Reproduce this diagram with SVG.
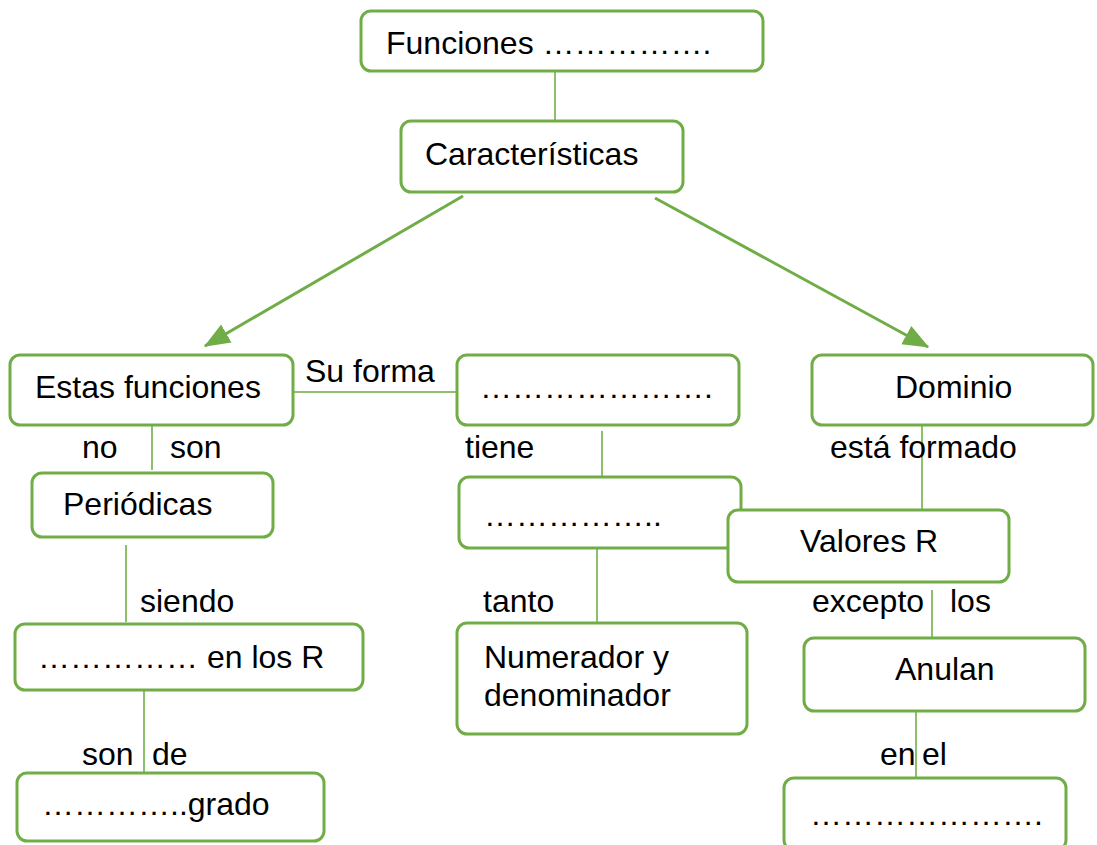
<svg xmlns="http://www.w3.org/2000/svg" width="1097" height="845" viewBox="0 0 1097 845">
<style>
.box{fill:#fff;stroke:#70ad47;stroke-width:3}
.t{font-family:"Liberation Sans",Arial,sans-serif;font-size:32px;fill:#000}
.ln{stroke:#8cc06a;stroke-width:2;fill:none}
.ar{stroke:#70ad47;stroke-width:3;fill:none}
</style>
<defs>
<marker id="ahb" viewBox="0 0 20 16" refX="19" refY="8" markerWidth="26" markerHeight="22" orient="auto" markerUnits="userSpaceOnUse">
<path d="M0,0 L20,8 L0,16 Z" fill="#70ad47"/>
</marker>
</defs>
<rect width="1097" height="845" fill="#fff"/>
<g id="connectors">
<line class="ln" x1="555" y1="71" x2="555" y2="121"/>
<line class="ar" x1="463" y1="196" x2="205" y2="346" marker-end="url(#ahb)"/>
<line class="ar" x1="655" y1="198" x2="928" y2="347" marker-end="url(#ahb)"/>
<line class="ln" x1="293" y1="392" x2="457" y2="392"/>
<line class="ln" x1="152" y1="425" x2="152" y2="470"/>
<line class="ln" x1="126" y1="545" x2="126" y2="622"/>
<line class="ln" x1="144" y1="685" x2="144" y2="772"/>
<line class="ln" x1="602" y1="431" x2="602" y2="477"/>
<line class="ln" x1="597" y1="548" x2="597" y2="622"/>
<line class="ln" x1="922" y1="425" x2="922" y2="510"/>
<line class="ln" x1="932" y1="590" x2="932" y2="638"/>
<line class="ln" x1="916" y1="708" x2="916" y2="778"/>
<text class="t" x="305" y="382">Su forma</text>
<text class="t" x="82" y="458">no</text>
<text class="t" x="170" y="458">son</text>
<text class="t" x="140" y="612">siendo</text>
<text class="t" x="82" y="765">son</text>
<text class="t" x="152" y="765">de</text>
<text class="t" x="465" y="458">tiene</text>
<text class="t" x="483" y="612">tanto</text>
<text class="t" x="830" y="458">está formado</text>
<text class="t" x="812" y="612">excepto</text>
<text class="t" x="950" y="612">los</text>
<text class="t" x="880" y="765">en</text>
<text class="t" x="922" y="765">el</text>
</g>
<g id="n-funciones"><rect class="box" x="361" y="11" width="402" height="60" rx="10"/><text class="t" x="386" y="54">Funciones &#8230;&#8230;&#8230;&#8230;&#8230;.</text></g>
<g id="n-caracteristicas"><rect class="box" x="401" y="121" width="282" height="71" rx="10"/><text class="t" x="425" y="165">Características</text></g>
<g id="n-estas"><rect class="box" x="10" y="355" width="283" height="70" rx="10"/><text class="t" x="35" y="398">Estas funciones</text></g>
<g id="n-forma"><rect class="box" x="457" y="355" width="282" height="70" rx="10"/><text class="t" x="480" y="398">&#8230;&#8230;&#8230;&#8230;&#8230;&#8230;&#8230;.</text></g>
<g id="n-dominio"><rect class="box" x="812" y="355" width="281" height="70" rx="10"/><text class="t" x="895" y="398">Dominio</text></g>
<g id="n-periodicas"><rect class="box" x="32" y="473" width="241" height="64" rx="10"/><text class="t" x="63" y="515">Periódicas</text></g>
<g id="n-enlosr"><rect class="box" x="15" y="624" width="348" height="66" rx="10"/><text class="t" x="38" y="668">&#8230;&#8230;&#8230;&#8230;&#8230; en los R</text></g>
<g id="n-grado"><rect class="box" x="17" y="773" width="307" height="68" rx="10"/><text class="t" x="42" y="815">&#8230;&#8230;&#8230;&#8230;..grado</text></g>
<g id="n-tiene"><rect class="box" x="459" y="477" width="282" height="71" rx="10"/><text class="t" x="484" y="526">&#8230;&#8230;&#8230;&#8230;&#8230;..</text></g>
<g id="n-numerador"><rect class="box" x="457" y="623" width="290" height="111" rx="10"/><text class="t" x="484" y="668">Numerador y</text><text class="t" x="484" y="706">denominador</text></g>
<g id="n-valores"><rect class="box" x="728" y="510" width="281" height="72" rx="10"/><text class="t" x="800" y="552">Valores R</text></g>
<g id="n-anulan"><rect class="box" x="804" y="638" width="281" height="73" rx="10"/><text class="t" x="895" y="680">Anulan</text></g>
<g id="n-el"><rect class="box" x="784" y="778" width="282" height="72" rx="10"/><text class="t" x="810" y="825">&#8230;&#8230;&#8230;&#8230;&#8230;&#8230;&#8230;.</text></g>
</svg>
